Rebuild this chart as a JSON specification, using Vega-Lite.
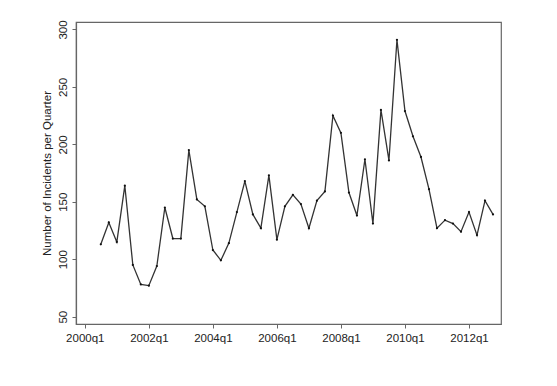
{
  "$schema": "https://vega.github.io/schema/vega-lite/v6.json",
  "width": 425,
  "height": 302,
  "autosize": {"type": "none"},
  "padding": {"left": 76, "top": 22, "right": 56, "bottom": 62},
  "background": "white",
  "config": {
    "view": {"stroke": "#666666", "strokeWidth": 1.2},
    "font": "Liberation Sans",
    "axis": {
      "domainColor": "#666666",
      "domainWidth": 1.2,
      "tickColor": "#666666",
      "tickSize": 4,
      "labelFont": "Liberation Sans",
      "labelFontSize": 11.5,
      "labelColor": "#222222",
      "titleFont": "Liberation Sans",
      "titleFontSize": 11.5,
      "titleFontWeight": "normal",
      "titleColor": "#222222",
      "grid": false
    }
  },
  "data": {
    "values": [
      {"quarter": "2000q3", "t": 2, "incidents": 113},
      {"quarter": "2000q4", "t": 3, "incidents": 132},
      {"quarter": "2001q1", "t": 4, "incidents": 115},
      {"quarter": "2001q2", "t": 5, "incidents": 164},
      {"quarter": "2001q3", "t": 6, "incidents": 95},
      {"quarter": "2001q4", "t": 7, "incidents": 78},
      {"quarter": "2002q1", "t": 8, "incidents": 77},
      {"quarter": "2002q2", "t": 9, "incidents": 94},
      {"quarter": "2002q3", "t": 10, "incidents": 145},
      {"quarter": "2002q4", "t": 11, "incidents": 118},
      {"quarter": "2003q1", "t": 12, "incidents": 118},
      {"quarter": "2003q2", "t": 13, "incidents": 195},
      {"quarter": "2003q3", "t": 14, "incidents": 152},
      {"quarter": "2003q4", "t": 15, "incidents": 146},
      {"quarter": "2004q1", "t": 16, "incidents": 108},
      {"quarter": "2004q2", "t": 17, "incidents": 99},
      {"quarter": "2004q3", "t": 18, "incidents": 114},
      {"quarter": "2004q4", "t": 19, "incidents": 141},
      {"quarter": "2005q1", "t": 20, "incidents": 168},
      {"quarter": "2005q2", "t": 21, "incidents": 139},
      {"quarter": "2005q3", "t": 22, "incidents": 127},
      {"quarter": "2005q4", "t": 23, "incidents": 173},
      {"quarter": "2006q1", "t": 24, "incidents": 117},
      {"quarter": "2006q2", "t": 25, "incidents": 146},
      {"quarter": "2006q3", "t": 26, "incidents": 156},
      {"quarter": "2006q4", "t": 27, "incidents": 148},
      {"quarter": "2007q1", "t": 28, "incidents": 127},
      {"quarter": "2007q2", "t": 29, "incidents": 151},
      {"quarter": "2007q3", "t": 30, "incidents": 159},
      {"quarter": "2007q4", "t": 31, "incidents": 225},
      {"quarter": "2008q1", "t": 32, "incidents": 210},
      {"quarter": "2008q2", "t": 33, "incidents": 158},
      {"quarter": "2008q3", "t": 34, "incidents": 138},
      {"quarter": "2008q4", "t": 35, "incidents": 187},
      {"quarter": "2009q1", "t": 36, "incidents": 131},
      {"quarter": "2009q2", "t": 37, "incidents": 230},
      {"quarter": "2009q3", "t": 38, "incidents": 186},
      {"quarter": "2009q4", "t": 39, "incidents": 291},
      {"quarter": "2010q1", "t": 40, "incidents": 229},
      {"quarter": "2010q2", "t": 41, "incidents": 207},
      {"quarter": "2010q3", "t": 42, "incidents": 189},
      {"quarter": "2010q4", "t": 43, "incidents": 161},
      {"quarter": "2011q1", "t": 44, "incidents": 127},
      {"quarter": "2011q2", "t": 45, "incidents": 134},
      {"quarter": "2011q3", "t": 46, "incidents": 131},
      {"quarter": "2011q4", "t": 47, "incidents": 124},
      {"quarter": "2012q1", "t": 48, "incidents": 141},
      {"quarter": "2012q2", "t": 49, "incidents": 121},
      {"quarter": "2012q3", "t": 50, "incidents": 151},
      {"quarter": "2012q4", "t": 51, "incidents": 139}
    ]
  },
  "encoding": {
    "x": {
      "field": "t",
      "type": "quantitative",
      "scale": {"domain": [-1.1, 52], "nice": false, "zero": false},
      "axis": {
        "title": null,
        "values": [0, 8, 16, 24, 32, 40, 48],
        "labelExpr": "(2000 + floor(datum.value / 4)) + 'q' + (datum.value % 4 + 1)",
        "labelPadding": 4,
        "labelFlush": false
      }
    },
    "y": {
      "field": "incidents",
      "type": "quantitative",
      "scale": {"domain": [43.6, 306.5], "nice": false, "zero": false},
      "axis": {
        "title": "Number of Incidents per Quarter",
        "values": [50, 100, 150, 200, 250, 300],
        "labelAngle": -90,
        "labelAlign": "center",
        "labelBaseline": "bottom",
        "labelPadding": 4,
        "titlePadding": 5
      }
    }
  },
  "layer": [
    {"mark": {"type": "line", "color": "#333333", "strokeWidth": 1.3}},
    {"mark": {"type": "point", "filled": true, "color": "#111111", "size": 5, "opacity": 1}}
  ]
}
